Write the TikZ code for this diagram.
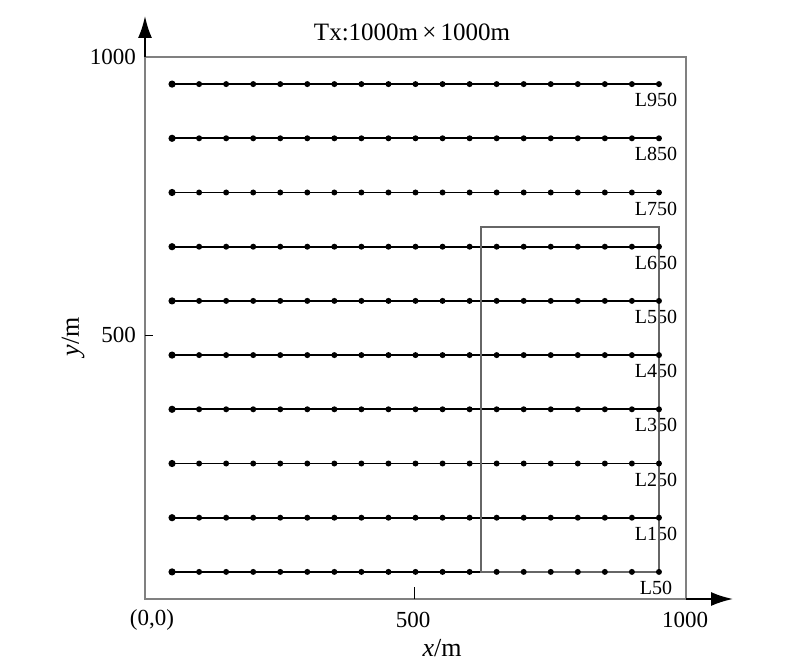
\documentclass[tikz,border=0pt]{standalone}
\usepackage{fontspec}
\setmainfont{Liberation Serif}
\usetikzlibrary{arrows.meta}
\begin{document}
\begin{tikzpicture}[x=1pt,y=-1pt,
  framegray/.style={draw=black!50, line width=2pt},
  axisarrow/.style={draw=black, line width=2pt, -{Latex[length=22pt,width=14pt]}},
  survey/.style={draw=black, line width=1.8pt},
  innerbox/.style={draw=black!60, line width=1.6pt},
  dotmark/.style={fill=black},
  ticklab/.style={inner sep=0pt, font=\fontsize{23}{27}\selectfont},
  axlab/.style={inner sep=0pt, font=\fontsize{26}{30}\selectfont},
  titlelab/.style={inner sep=0pt, font=\fontsize{25}{30}\selectfont},
  llabel/.style={inner sep=0pt, font=\fontsize{20}{24}\selectfont},
  tickmark/.style={draw=black, line width=1pt}]
\useasboundingbox (0,0) rectangle (800,666);
\draw[framegray] (145,57) rectangle (686,599);
\coordinate (o) at (145,599);
\coordinate (ytop) at (145,57);
\coordinate (yend) at (145,16);
\coordinate (xright) at (686,599);
\coordinate (xend) at (733,599);
\draw[axisarrow] (ytop) -- (yend);
\draw[axisarrow] (xright) -- (xend);
\foreach \v [count=\i] in {50,150,...,950} {
  \pgfmathsetmacro\yy{599-\v*0.542}
  \foreach \u [count=\j] in {50,100,...,950} {
    \pgfmathsetmacro\xx{145+\u*0.541}
    \coordinate (p\i-\j) at (\xx,\yy);
  }
  \draw[survey] (p\i-1) -- (p\i-19);
  \node[llabel] (lab\i) at ([xshift=-3pt,yshift=-16pt]p\i-19) {L\v};
}
\draw[innerbox] (481,226.7) rectangle (p1-19);
\foreach \i in {1,...,10} {
  \fill[dotmark] (p\i-1) circle (3.6pt);
  \foreach \j in {2,...,19} \fill[dotmark] (p\i-\j) circle (3pt);
}
\coordinate (yt1) at (145,335);
\coordinate (yt2) at (153,335);
\draw[tickmark] (yt1) -- (yt2);
\coordinate (xt1) at (414,599);
\coordinate (xt2) at (414,587);
\draw[tickmark] (xt1) -- (xt2);
\node[ticklab, anchor=east] (y1000) at (136,57) {1000};
\node[ticklab, anchor=east] (y500) at (136,335) {500};
\node[axlab] (ylab) at (73,337) [rotate=90] {\textit{y}/m};
\node[ticklab] (orig) at (152,620) {(0,0)};
\node[ticklab] (x500) at (413,620) {500};
\node[ticklab] (x1000) at (685,620) {1000};
\node[axlab] (xlab) at (442,648) {\textit{x}/m};
\node[titlelab] (title) at (412,32) {Tx:1000m\,×\,1000m};
\end{tikzpicture}
\end{document}
